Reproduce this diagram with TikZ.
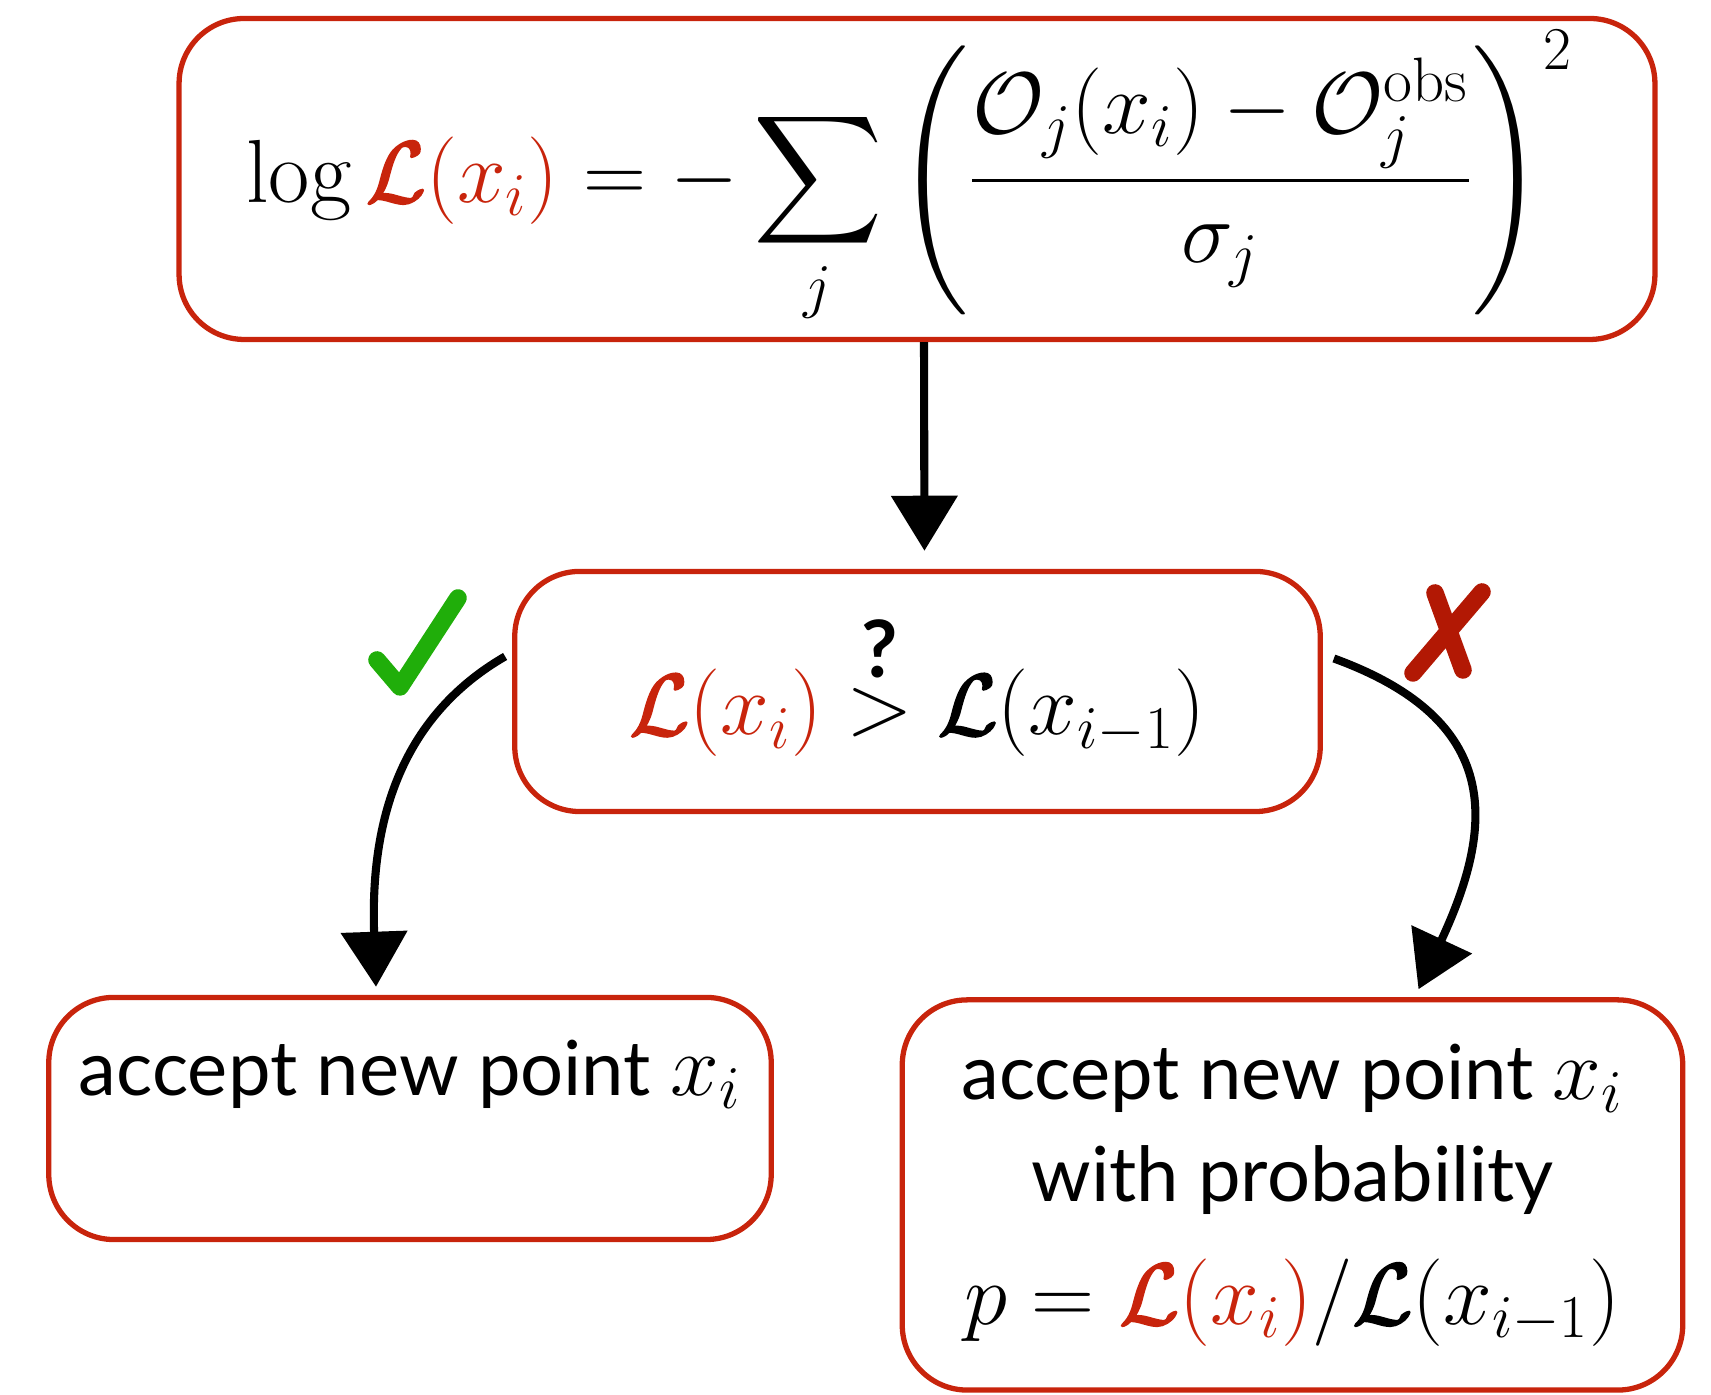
\documentclass[tikz,border=0pt]{standalone}
\usepackage{amsmath, amssymb}
\usepackage{fontspec}
\newfontfamily\gillfont[Scale=0.9]{Lato}
\usetikzlibrary{positioning,arrows.meta}
\definecolor{boxred}{RGB}{200,36,12}
\definecolor{crossred}{RGB}{178,24,4}
\definecolor{checkgreen}{RGB}{32,174,10}
% slightly heavier calligraphic L (fill + stroke)
\newcommand{\Lk}{\special{pdf:literal direct 2 Tr 0.5 w}\mathcal{L}\special{pdf:literal direct 0 Tr}}
\newcommand{\Lred}[1]{\textcolor{boxred}{\Lk(#1)}}
\newcommand{\qmark}{\mbox{\raisebox{-1.5pt}[\height][0pt]{\fontsize{25}{26}\selectfont\gillfont\bfseries ?}}}

\begin{document}
\begin{tikzpicture}[x=0.01cm, y=0.01cm, >={Triangle[length=0.55cm, width=0.65cm]},
    every node/.style={font=\fontsize{24}{29}\selectfont},
    sketchbox/.style={draw=boxred, line width=1.5pt, rounded corners=0.65cm, align=center},
    flow/.style={->, line width=2.3pt}]
  \useasboundingbox (0,0) rectangle (1711,1395);
  % boxes
  \node[sketchbox, minimum width=14.75cm, minimum height=3.1cm, font=\fontsize{25.5}{30}\selectfont] (loglike) at (917,1216)
    {$\displaystyle \log \Lred{x_i} = -\sum_j \left(\frac{\mathcal{O}_j(x_i) - \mathcal{O}_j^{\mathrm{obs}}}{\sigma_j}\right)^{2}$\hspace{0.14cm}};
  \node[sketchbox, minimum width=8.05cm, minimum height=2.4cm, text depth=12pt] (compare) at (917.5,703.5)
    {$\Lred{x_i} \overset{\qmark}{>} \Lk(x_{i-1})$};
  \node[sketchbox, minimum width=7.22cm, minimum height=2.42cm] (accept) at (410,276.5)
    {\gillfont accept new point $x_i$\\ \mbox{}};
  \node[sketchbox, minimum width=7.8cm, minimum height=3.9cm] (maybe) at (1292.5,200)
    {\gillfont accept new point $x_i$\\ \gillfont with probability\\[6pt] $p = \Lred{x_i}/\Lk(x_{i-1})$};
  % connectors
  \draw[flow, shorten >=0.18cm] ([xshift=0.07cm]loglike.south) -- ([xshift=0.07cm]compare.north);
  \draw[flow] ([shift={(-7,35)}]compare.west) to[out=210, in=92] ([shift={(-34,8)}]accept.north);
  \draw[flow] ([shift={(11,33)}]compare.east) to[out=-20, in=65, looseness=1.35] ([shift={(126,8)}]maybe.north);
  % yes / no marks
  \draw[checkgreen, line width=5pt, line cap=round, line join=round] (377,735) -- (400,708) -- (458,797);
  \draw[crossred, line width=5pt, line cap=round] (1435,802) -- (1463,725) (1482,803) -- (1413,722);
\end{tikzpicture}
\end{document}
